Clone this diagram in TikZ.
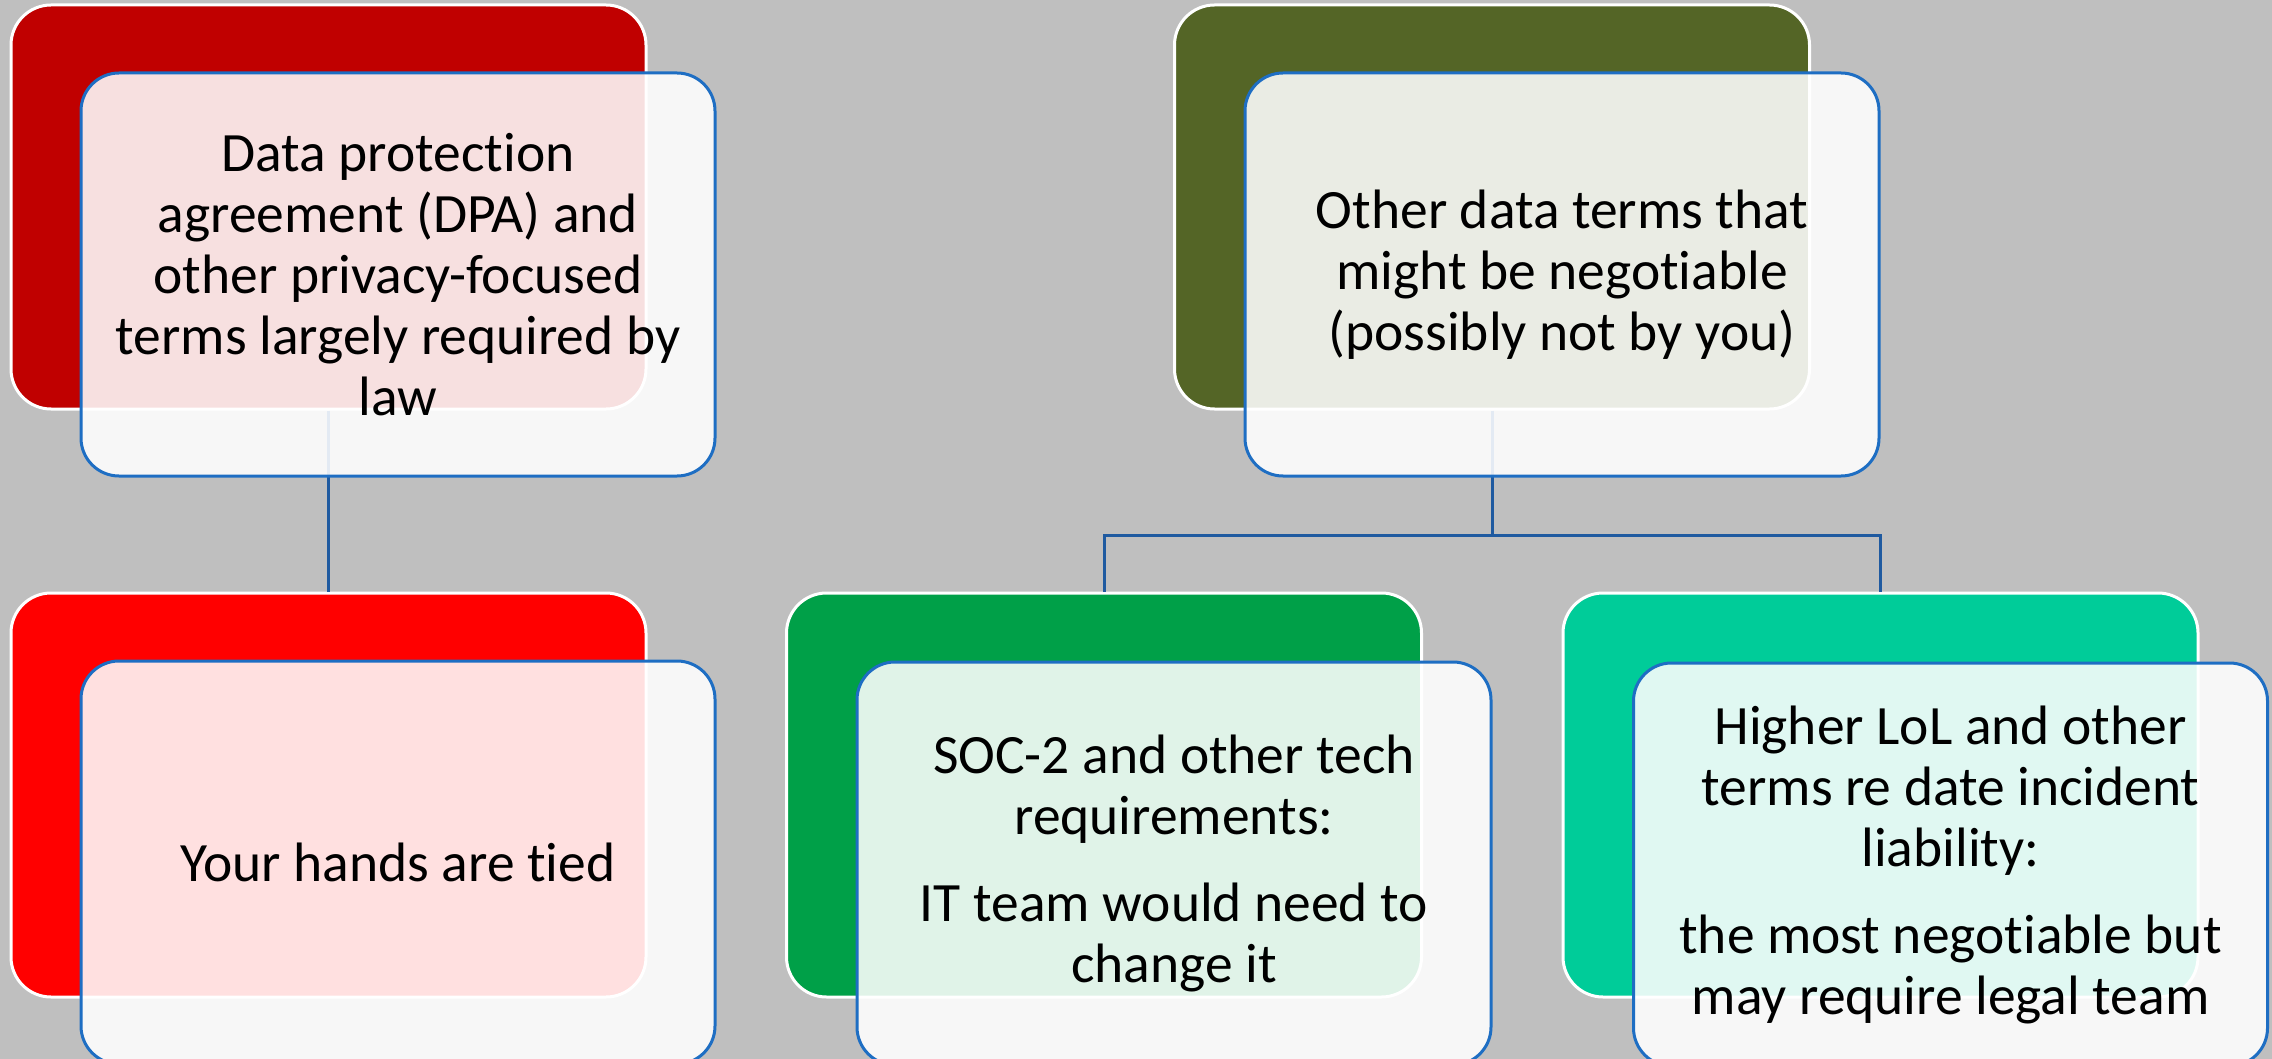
\documentclass[tikz,border=0pt]{standalone}
\usepackage{fontspec}
\setmainfont{Carlito}[Ligatures={NoCommon,NoRare,NoContextual}]
\definecolor{bggrey}{RGB}{191,191,191}
\definecolor{darkred}{RGB}{192,0,0}
\definecolor{brightred}{RGB}{255,0,0}
\definecolor{olive}{RGB}{84,101,38}
\definecolor{midgreen}{RGB}{0,160,72}
\definecolor{teal}{RGB}{0,204,153}
\definecolor{frontblue}{RGB}{30,110,195}
\definecolor{linkblue}{RGB}{31,90,160}
\tikzset{
  backbox/.style={draw=white, line width=3pt, rounded corners=40pt, minimum width=635pt, minimum height=404pt, inner sep=0pt},
  frontbox/.style={draw=frontblue, line width=3pt, rounded corners=38pt, fill=white, fill opacity=0.88, text opacity=1, minimum width=634pt, minimum height=403pt, inner sep=0pt, align=center, font=\fontsize{55.5}{61}\selectfont},
  link/.style={draw=linkblue, line width=3pt}
}
\begin{document}
\begin{tikzpicture}[x=1pt,y=-1pt]
\fill[bggrey] (0,0) rectangle (2272,1059);
\useasboundingbox (0,0) rectangle (2272,1059);
% back boxes
\node[backbox, fill=darkred] (backA) at (328.5,207) {};
\node[backbox, fill=olive] (backB) at (1492,207) {};
\node[backbox, fill=brightred] (backC) at (328.5,795) {};
\node[backbox, fill=midgreen] (backD) at (1104,795) {};
\node[backbox, fill=teal] (backE) at (1880.5,795) {};
% connectors
\coordinate (jB) at (1492,535);
\draw[link] (backA.south) -- (backC.north);
\draw[link] (backB.south) -- (jB);
\draw[link] (jB) -| (backD.north);
\draw[link] (jB) -| (backE.north);
% front boxes
\node[frontbox] (frontA) at (398,274.5) {Data protection\\agreement (DPA) and\\other privacy-focused\\terms largely required by\\law};
\node[frontbox] (frontB) at (1562,274.5) {Other data terms that\\might be negotiable\\(possibly not by you)};
\node[frontbox] (frontC) at (398,862.5) {Your hands are tied};
\node[frontbox] (frontD) at (1174,863.5) {SOC-2 and other tech\\requirements:\\[26pt]IT team would need to\\change it};
\node[frontbox] (frontE) at (1950.5,864.5) {Higher LoL and other\\terms re date incident\\liability:\\[26pt]the most negotiable but\\may require legal team};
\end{tikzpicture}
\end{document}
